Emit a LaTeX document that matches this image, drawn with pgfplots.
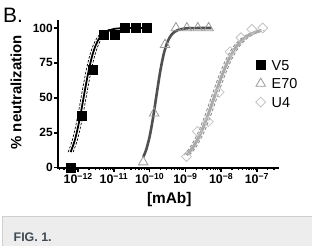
\documentclass[border=0pt]{standalone}
\usepackage{pgfplots}
\pgfplotsset{compat=1.18}
\usepackage{fontspec}
\setmainfont{Liberation Sans}
\definecolor{eGray}{HTML}{505050}
\definecolor{uGray}{HTML}{AAAAAA}
\definecolor{bandGray}{HTML}{8C8C8C}
\definecolor{triGray}{HTML}{9A9A9A}
\definecolor{diaGray}{HTML}{C4C4C4}
\definecolor{capBg}{HTML}{EDEDED}
\definecolor{capLine}{HTML}{CFCFCF}
\definecolor{capText}{HTML}{3F4A55}
\pgfplotstableread{
x y
-12.21 0
-11.905 37
-11.60 70
-11.295 95.5
-10.99 95
-10.685 100
-10.38 100
-10.075 100
}\vfivedata
\pgfplotstableread{
x y
-10.18 4
-9.875 39
-9.57 88
-9.265 100
-8.96 100
-8.655 100
-8.35 100
}\esevdata
\pgfplotstableread{
x y
-8.97 8
-8.665 26
-8.36 33
-8.055 54
-7.75 83
-7.445 93
-7.14 99
-6.835 100
}\ufourdata
\pgfplotstableread{
x y
-12.21 11.2
-12.1 19.2
-12.0 29.7
-11.9 42.8
-11.8 57.1
-11.7 70.3
-11.6 80.8
-11.5 88.2
-11.4 93.0
-11.3 96.0
-11.2 97.7
-11.0 99.3
-10.8 99.8
-10.5 100
-10.075 100
}\vfivefit
\pgfplotstableread{
x y
-12.28 11.2
-12.17 19.2
-12.07 29.7
-11.97 42.8
-11.87 57.1
-11.77 70.3
-11.67 80.8
-11.57 88.2
-11.47 93.0
-11.37 96.0
-11.27 97.7
-11.12 99.0
}\vfiveup
\pgfplotstableread{
x y
-12.14 11.2
-12.03 19.2
-11.93 29.7
-11.83 42.8
-11.73 57.1
-11.63 70.3
-11.53 80.8
-11.43 88.2
-11.33 93.0
-11.23 96.0
-11.13 97.7
-10.98 99.0
}\vfivelo
\pgfplotstableread{
x y
-10.18 7.7
-10.1 12.6
-10.0 22.4
-9.9 36.5
-9.8 53.4
-9.7 69.6
-9.6 82.0
-9.5 90.1
-9.4 94.8
-9.3 97.3
-9.2 98.6
-9.0 99.7
-8.8 99.9
-8.27 100
}\esevfit
\pgfplotstableread{
x y
-8.97 9.1
-8.8 14.2
-8.6 23.2
-8.4 35.5
-8.2 50
-8.0 64.5
-7.8 76.8
-7.6 85.8
-7.4 91.6
-7.2 95.2
-7.0 97.3
-6.87 98.2
}\ufourfit
\pgfplotstableread{
x y
-9.05 9.1
-8.88 14.2
-8.68 23.2
-8.48 35.5
-8.28 50
-8.08 64.5
-7.88 76.8
-7.68 85.8
-7.48 91.6
-7.28 95.2
-7.08 97.3
-6.95 98.2
}\ufourup
\pgfplotstableread{
x y
-8.89 9.1
-8.72 14.2
-8.52 23.2
-8.32 35.5
-8.12 50
-7.92 64.5
-7.72 76.8
-7.52 85.8
-7.32 91.6
-7.12 95.2
-6.92 97.3
-6.79 98.2
}\ufourlo
\begin{document}
\begin{tikzpicture}
\fill[white] (0bp,0bp) rectangle (312bp,246bp);
\fill[capBg] (3bp,0bp) rectangle (312bp,29.5bp);
\draw[capLine, line width=1bp] (3bp,0bp) -- (3bp,29.5bp) -- (312bp,29.5bp);
\node[anchor=base west, font=\bfseries\fontsize{12.5}{12.5}\selectfont, text=capText, inner sep=0] at (13.5bp,4.5bp) {FIG. 1.};
\node[anchor=base west, font=\fontsize{21}{21}\selectfont, inner sep=0] at (3bp,223bp) {B.};
\begin{axis}[
  at={(58bp,78bp)}, anchor=south west,
  scale only axis, width=220bp, height=147bp,
  xmin=-12.567, xmax=-6.422, ymin=0, ymax=105,
  axis lines*=left,
  axis line style={line width=2bp, line cap=rect},
  clip=false,
  tick align=outside,
  major tick length=4bp,
  minor tick length=2.5bp,
  every tick/.style={black, line width=1.5bp},
  every minor tick/.style={black, line width=1.2bp},
  ytick={0,25,50,75,100},
  xtick={-12,-11,-10,-9,-8,-7},
  xticklabels={10\textsuperscript{−12},10\textsuperscript{−11},10\textsuperscript{−10},10\textsuperscript{−9},10\textsuperscript{−8},10\textsuperscript{−7}},
  minor xtick={-12.523,-12.398,-12.301,-12.222,-12.155,-12.097,-12.046,
    -11.699,-11.523,-11.398,-11.301,-11.222,-11.155,-11.097,-11.046,
    -10.699,-10.523,-10.398,-10.301,-10.222,-10.155,-10.097,-10.046,
    -9.699,-9.523,-9.398,-9.301,-9.222,-9.155,-9.097,-9.046,
    -8.699,-8.523,-8.398,-8.301,-8.222,-8.155,-8.097,-8.046,
    -7.699,-7.523,-7.398,-7.301,-7.222,-7.155,-7.097,-7.046,
    -6.699,-6.523},
  /pgf/number format/assume math mode=true,
  yticklabel style={font=\bfseries\fontsize{12}{12}\selectfont, inner sep=1bp},
  xticklabel style={font=\bfseries\fontsize{12.5}{12.5}\selectfont, inner sep=1.5bp},
  ylabel={\% neutralization},
  ylabel style={at={(axis description cs:-0.191,0.514)}, anchor=center, font=\bfseries\fontsize{15}{15}\selectfont, inner sep=0},
  xlabel={[mAb]},
  xlabel style={at={(axis description cs:0.507,-0.218)}, anchor=center, font=\bfseries\fontsize{15.5}{15.5}\selectfont, inner sep=0},
  legend style={at={(axis description cs:0.9,0.75)}, anchor=north west, draw=none, fill=none, inner sep=0pt,
    font=\fontsize{14.5}{14.5}\selectfont, row sep=4bp, column sep=4bp,
    nodes={inner sep=2bp, text height=10.5bp, text depth=0bp}},
  legend cell align=left,
  legend image code/.code={\draw[#1] plot coordinates {(0bp,0bp)};},
]
\addplot[only marks, mark=square*, mark size=4.5bp, black] table {\vfivedata};
\addlegendentry{V5}
\addplot[only marks, mark=triangle, mark size=5.5bp, triGray, mark options={line width=0.8bp}] table {\esevdata};
\addlegendentry{E70}
\addplot[only marks, mark=square, mark size=3.5bp, diaGray, mark options={rotate=45, line width=0.8bp}] table {\ufourdata};
\addlegendentry{U4}
\addplot[forget plot, black, line width=0.7bp, dash pattern=on 2.5bp off 1.5bp, smooth] table {\vfiveup};
\addplot[forget plot, black, line width=0.7bp, dash pattern=on 2.5bp off 1.5bp, smooth] table {\vfivelo};
\addplot[forget plot, black, line width=1.8bp, smooth] table {\vfivefit};
\addplot[forget plot, eGray, line width=2.6bp, smooth] table {\esevfit};
\addplot[forget plot, bandGray, line width=0.9bp, dash pattern=on 3bp off 2bp, smooth] table {\ufourup};
\addplot[forget plot, bandGray, line width=0.9bp, dash pattern=on 3bp off 2bp, smooth] table {\ufourlo};
\addplot[forget plot, uGray, line width=3bp, smooth] table {\ufourfit};
\end{axis}
\end{tikzpicture}
\end{document}
